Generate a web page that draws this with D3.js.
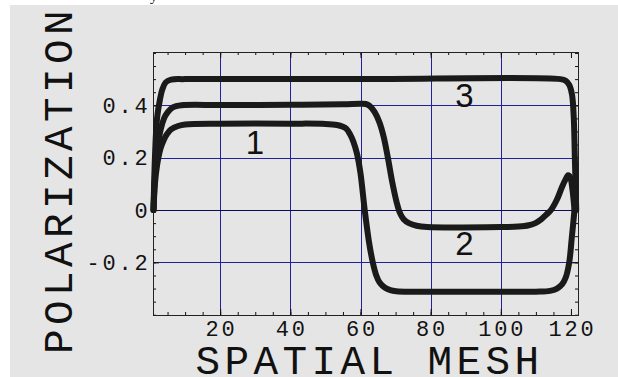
<!DOCTYPE html>
<html>
<head>
<meta charset="utf-8">
<script src="https://cdn.jsdelivr.net/npm/d3@7"></script>
<style>
  body { margin: 0; background: #fff; }
  svg { display: block; }
</style>
</head>
<body>
<svg id="chart" width="618" height="377"></svg>
<script>
// tick labels
const xTickValues = [20, 40, 60, 80, 100, 120]
const yTickValues = [-0.2, 0, 0.2, 0.4]
const xGridValues = [20, 40, 60, 80, 100]

// curve 1
const curve1X = [1, 1.4, 2, 3, 4, 5, 6, 8, 10, 20, 40, 50, 53.3, 55, 56, 57, 58, 59, 60, 61.2, 62.4, 63.5, 64.5, 65.5, 67, 68.5, 70.2, 75, 90, 110, 114, 116, 117.5, 118.5, 119.5, 120.2, 121]
const curve1Y = [0, 0.1, 0.17, 0.235, 0.27, 0.293, 0.308, 0.321, 0.327, 0.33, 0.33, 0.329, 0.325, 0.318, 0.31, 0.29, 0.26, 0.215, 0.14, 0.0, -0.12, -0.2, -0.25, -0.278, -0.297, -0.306, -0.31, -0.312, -0.312, -0.312, -0.309, -0.3, -0.283, -0.258, -0.2, -0.11, 0]

// curve 2
const curve2X = [1, 1.4, 2, 3, 4, 5, 6.5, 9, 20, 40, 55, 60, 61.5, 62.6, 64, 65.4, 66.6, 67.8, 69, 70.3, 71.2, 72.3, 73.8, 76, 79, 100, 105, 108, 110, 111.5, 113, 114.3, 116, 117.5, 118.5, 119.2, 119.8, 120.4, 121]
const curve2Y = [0, 0.13, 0.22, 0.305, 0.35, 0.373, 0.392, 0.4, 0.401, 0.402, 0.404, 0.406, 0.405, 0.398, 0.375, 0.335, 0.28, 0.2, 0.11, 0.03, -0.01, -0.035, -0.05, -0.06, -0.065, -0.065, -0.063, -0.058, -0.049, -0.036, -0.017, 0, 0.04, 0.09, 0.118, 0.133, 0.125, 0.08, 0]

// curve 3
const curve3X = [1, 1.4, 2, 2.8, 3.5, 4.5, 6, 10, 60, 117, 118.5, 119.5, 120.3, 120.8, 121.1, 121.3, 121.5]
const curve3Y = [0, 0.2, 0.35, 0.42, 0.46, 0.488, 0.498, 0.5, 0.5, 0.5, 0.494, 0.478, 0.44, 0.35, 0.2, 0.1, 0]

// curve labels (data coordinates of the label baseline centre)
const curveLabels = ["1", "2", "3"]
const curveLabelX = [29.9, 89.6, 89.6]
const curveLabelY = [0.214, -0.172, 0.394]

const svg = d3.select("#chart")

// grey panel
svg.append("rect")
  .attr("x", 10).attr("y", 5)
  .attr("width", 608).attr("height", 372)
  .attr("fill", "#e5e5e5")

// fragment of caption text above the panel
svg.append("text")
  .attr("x", 150).attr("y", 0.5)
  .attr("font-family", "Liberation Serif")
  .attr("font-size", 15)
  .text("y")

const x = d3.scaleLinear().domain([0.85, 122]).range([153, 578])
const y = d3.scaleLinear().domain([-0.401, 0.6036]).range([315, 52])

const plotLeft = x.range()[0], plotRight = x.range()[1]
const plotTop = y.range()[1], plotBottom = y.range()[0]

// grid
const grid = svg.append("g").attr("class", "grid")
grid.selectAll("line.gx")
  .data(xGridValues)
  .enter().append("line")
  .attr("class", "gx")
  .attr("x1", d => Math.round(x(d)) + 0.5).attr("x2", d => Math.round(x(d)) + 0.5)
  .attr("y1", plotTop).attr("y2", plotBottom)
  .attr("stroke", "#2020a0")
grid.selectAll("line.gy")
  .data(yTickValues)
  .enter().append("line")
  .attr("class", "gy")
  .attr("y1", d => Math.round(y(d)) + 0.5).attr("y2", d => Math.round(y(d)) + 0.5)
  .attr("x1", plotLeft).attr("x2", plotRight)
  .attr("stroke", d => d === 0 ? "#0a0a55" : "#2020a0")

// frame ticks, pointing inward on all four sides
const xMinor = d3.range(5, 125, 5)
const yMinor = d3.range(-0.4, 0.6001, 0.05)

function tickAxis(axis, tx, ty) {
  const g = svg.append("g")
    .attr("transform", `translate(${tx},${ty})`)
    .call(axis)
  g.select(".domain").remove()
  g.selectAll("text").remove()
  g.selectAll("line").attr("stroke", "#111")
  return g
}

tickAxis(d3.axisBottom(x).tickValues(xMinor).tickSize(-3), 0, plotBottom)
tickAxis(d3.axisBottom(x).tickValues(xTickValues).tickSize(-6), 0, plotBottom)
tickAxis(d3.axisTop(x).tickValues(xMinor).tickSize(-3), 0, plotTop)
tickAxis(d3.axisTop(x).tickValues(xTickValues).tickSize(-6), 0, plotTop)
tickAxis(d3.axisLeft(y).tickValues(yMinor).tickSize(-3), plotLeft, 0)
tickAxis(d3.axisLeft(y).tickValues(yTickValues).tickSize(-6), plotLeft, 0)
tickAxis(d3.axisRight(y).tickValues(yMinor).tickSize(-3), plotRight, 0)
tickAxis(d3.axisRight(y).tickValues(yTickValues).tickSize(-6), plotRight, 0)

// frame
svg.append("rect")
  .attr("x", plotLeft + 0.5).attr("y", plotTop + 0.5)
  .attr("width", plotRight - plotLeft).attr("height", plotBottom - plotTop)
  .attr("fill", "none")
  .attr("stroke", "#222")

// tick labels
const tickFont = "Liberation Mono"
svg.append("g").selectAll("text")
  .data(xTickValues)
  .enter().append("text")
  .attr("x", d => x(d) + 1.4)
  .attr("y", 336)
  .attr("text-anchor", "middle")
  .attr("font-family", tickFont)
  .attr("font-size", 22)
  .attr("letter-spacing", 2.8)
  .attr("fill", "#111")
  .text(d => d)

svg.append("g").selectAll("text")
  .data(yTickValues)
  .enter().append("text")
  .attr("x", 150.5)
  .attr("y", d => y(d) + 7.5)
  .attr("text-anchor", "end")
  .attr("font-family", tickFont)
  .attr("font-size", 22)
  .attr("letter-spacing", 2.8)
  .attr("fill", "#111")
  .text(d => d)

// curves
const line = d3.line()
  .x(d => x(d[0]))
  .y(d => y(d[1]))
  .curve(d3.curveCatmullRom.alpha(0.5))

const curves = [
  d3.zip(curve1X, curve1Y),
  d3.zip(curve2X, curve2Y),
  d3.zip(curve3X, curve3Y)
]

svg.append("g").selectAll("path")
  .data(curves)
  .enter().append("path")
  .attr("d", line)
  .attr("fill", "none")
  .attr("stroke", "#1a1a1a")
  .attr("stroke-width", 6)
  .attr("stroke-linejoin", "round")
  .attr("stroke-linecap", "round")

// curve labels
svg.append("g").selectAll("text")
  .data(curveLabels)
  .enter().append("text")
  .attr("x", (d, i) => x(curveLabelX[i]))
  .attr("y", (d, i) => y(curveLabelY[i]))
  .attr("text-anchor", "middle")
  .attr("font-family", "Liberation Sans")
  .attr("font-size", 33)
  .attr("fill", "#111")
  .text(d => d)

// axis titles
svg.append("text")
  .attr("x", 369.5)
  .attr("y", 374)
  .attr("text-anchor", "middle")
  .attr("font-family", tickFont)
  .attr("font-size", 41)
  .attr("letter-spacing", 4.4)
  .attr("fill", "#111")
  .text("SPATIAL MESH")

svg.append("text")
  .attr("transform", "translate(72,180) rotate(-90)")
  .attr("text-anchor", "middle")
  .attr("font-family", tickFont)
  .attr("font-size", 41)
  .attr("letter-spacing", 4.4)
  .attr("fill", "#111")
  .text("POLARIZATION")
</script>
</body>
</html>
